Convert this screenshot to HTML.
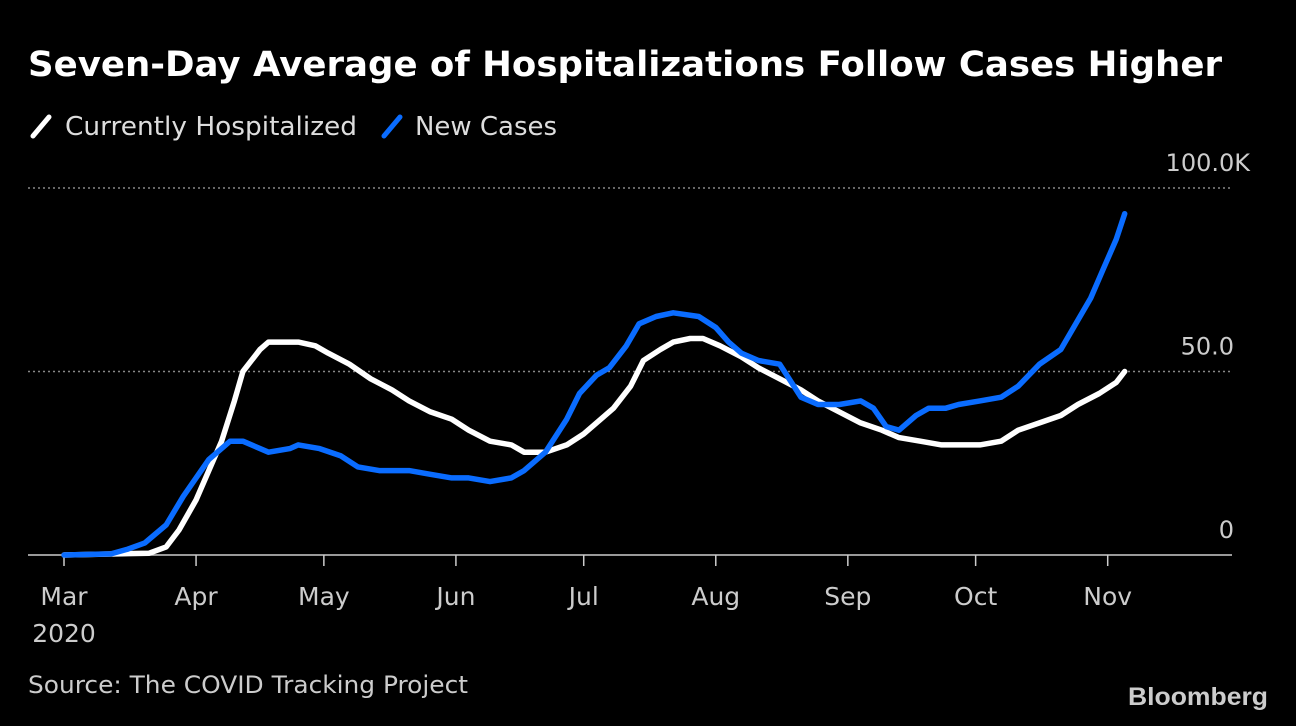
<!DOCTYPE html>
<html><head><meta charset="utf-8"><style>
html,body{margin:0;padding:0;background:#000;}
body{width:1296px;height:722px;overflow:hidden;font-family:"DejaVu Sans",sans-serif;}
</style></head><body>
<svg width="1296" height="722" xmlns="http://www.w3.org/2000/svg" font-family="DejaVu Sans, sans-serif">
<rect width="1296" height="722" fill="#000"/>
<text x="28" y="76" fill="#fff" font-weight="bold" font-size="35" textLength="1194" lengthAdjust="spacingAndGlyphs">Seven-Day Average of Hospitalizations Follow Cases Higher</text>
<g>
<line x1="33" y1="136" x2="49" y2="117" stroke="#fff" stroke-width="5" stroke-linecap="round"/>
<text x="65" y="135" fill="#ddd" font-size="26" textLength="292" lengthAdjust="spacingAndGlyphs">Currently Hospitalized</text>
<line x1="384" y1="136" x2="400" y2="117" stroke="#0a6cff" stroke-width="5" stroke-linecap="round"/>
<text x="415" y="135" fill="#ddd" font-size="26" textLength="142" lengthAdjust="spacingAndGlyphs">New Cases</text>
</g>
<g id="grid"></g>
<g id="series"></g>
<text x="28" y="693" fill="#ccc" font-size="24" textLength="440" lengthAdjust="spacingAndGlyphs">Source: The COVID Tracking Project</text>
<text x="1268" y="705" text-anchor="end" fill="#ccc" font-weight="bold" font-size="25" textLength="140" lengthAdjust="spacingAndGlyphs" font-family="Liberation Sans, sans-serif">Bloomberg</text>
</svg>
<script>
const monthLabels=["Mar","Apr","May","Jun","Jul","Aug","Sep","Oct","Nov"];
const monthDays=[0,31,61,92,122,153,184,214,245];
const yTicks=[0,50,100];
const yTickLabels=["0","50.0","100.0K"];
const hospDays=[0,20,24,27,31,34,37,40,42,46,48,51,55,59,62,67,72,77,81,86,91,95,100,105,108,113,118,122,126,129,133,136,140,143,147,150,154,159,163,168,173,177,182,187,192,196,201,206,210,215,220,224,229,234,238,243,247,249];
const hospVals=[0,0.5,2.2,6.8,15,23,31,42,50,56,58,58,58,57,55,52,48,45,42,39,37,34,31,30,28,28,30,33,37,40,46,53,56,58,59,59,57,54,51,48,45,42,39,36,34,32,31,30,30,30,31,34,36,38,41,44,47,50];
const caseDays=[0,11,15,19,24,28,34,39,42,48,53,55,60,65,69,74,81,86,91,95,100,105,108,113,118,121,125,128,132,135,139,143,149,153,156,159,163,168,173,177,182,187,190,193,196,200,203,207,210,215,220,224,229,234,237,241,244,247,249];
const caseVals=[0,0.3,1.6,3.3,8.2,16,26,31,31,28,29,30,29,27,24,23,23,22,21,21,20,21,23,28,37,44,49,51,57,63,65,66,65,62,58,55,53,52,43,41,41,42,40,35,34,38,40,40,41,42,43,46,52,56,62,70,78,86,93];
const X=d=>64+d*4.26;
const Y=v=>555-v*3.67;
const NS="http://www.w3.org/2000/svg";
const grid=document.getElementById('grid');
function mk(tag,attrs,parent){const e=document.createElementNS(NS,tag);for(const k in attrs)e.setAttribute(k,attrs[k]);parent.appendChild(e);return e;}
yTicks.forEach((t,i)=>{
  if(t>0){const l=mk('line',{x1:28,x2:1232,y1:Y(t),y2:Y(t),stroke:'#888','stroke-width':1.5,'stroke-dasharray':'2,3'},grid);
  
  }
  const tx=mk('text',{x:(t===100?1250:1234),y:Y(t)-17,'text-anchor':'end',fill:'#ccc','font-size':24},grid);
  tx.textContent=yTickLabels[i];
  
  
});
const base=mk('line',{x1:28,x2:1232,y1:555,y2:555,stroke:'#ccc','stroke-width':1.5},grid);


monthLabels.forEach((m,i)=>{
  const x=X(monthDays[i]);
  const tk=mk('line',{x1:x,x2:x,y1:555,y2:566,stroke:'#ccc','stroke-width':1.5},grid);
  
  
  const tx=mk('text',{x:x,y:605,'text-anchor':'middle',fill:'#ccc','font-size':25},grid);
  tx.textContent=m;
  
  
});
const yr=mk('text',{x:64,y:642,'text-anchor':'middle',fill:'#ccc','font-size':25},grid);
yr.textContent="2020";


const ser=document.getElementById('series');
function line(days,vals,color,name){
  const d=days.map((x,i)=>(i?'L':'M')+X(x).toFixed(1)+','+Y(vals[i]).toFixed(1)).join('');
  const p=mk('path',{d:d,fill:'none',stroke:color,'stroke-width':5.5,'stroke-linejoin':'round','stroke-linecap':'round'},ser);
  
  
}
line(hospDays,hospVals,'#ffffff','hospitalized-line');
line(caseDays,caseVals,'#0a6cff','new-cases-line');
</script>
</body></html>
